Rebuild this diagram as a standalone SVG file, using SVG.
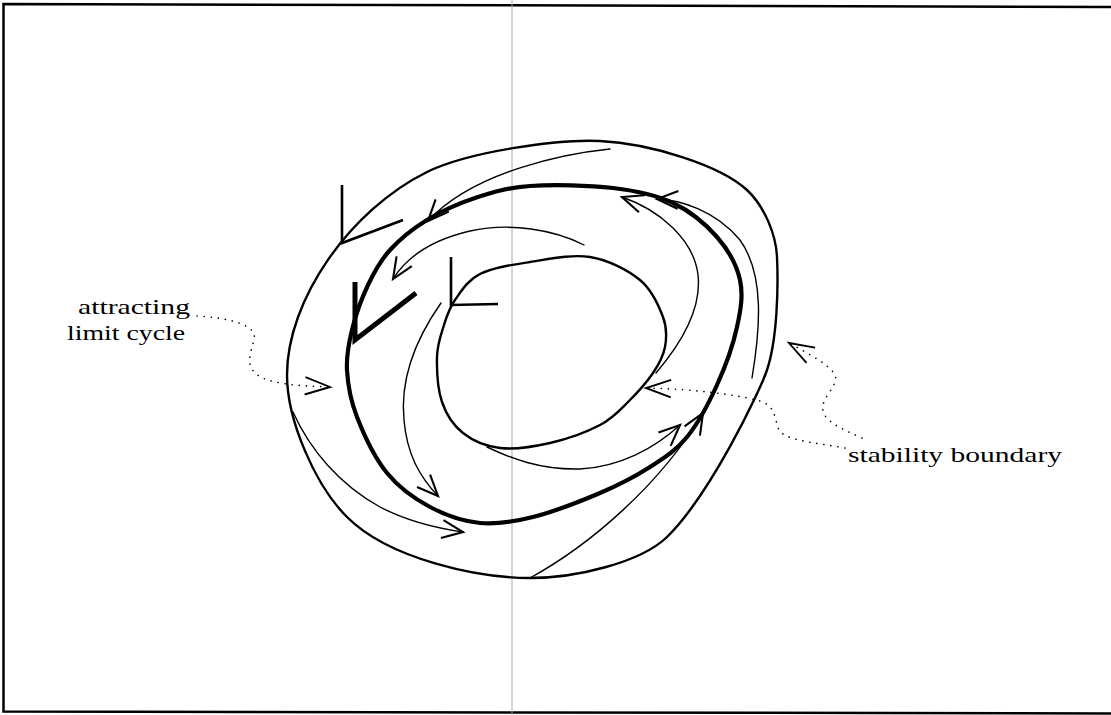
<svg xmlns="http://www.w3.org/2000/svg" width="1111" height="715" viewBox="0 0 1111 715">
<style>
.thin{fill:none;stroke:#000;stroke-width:1.4;stroke-linecap:round}
.curve{fill:none;stroke:#000;stroke-width:2.4}
.thick{fill:none;stroke:#000;stroke-width:4.2}
.dot{fill:none;stroke:#000;stroke-width:1.6;stroke-dasharray:0.1 7;stroke-linecap:round}
.lbl{font-family:"Liberation Serif","Times New Roman",serif;font-size:22px;fill:#000}
</style>
<defs>
<marker id="ah" markerUnits="userSpaceOnUse" markerWidth="30" markerHeight="30" refX="0" refY="0" viewBox="-16 -10 20 20" orient="auto" overflow="visible">
<path d="M-14,-6 L0,0 L-14,6" fill="none" stroke="#000" stroke-width="1.4"/>
</marker>
<marker id="dah" markerUnits="userSpaceOnUse" markerWidth="30" markerHeight="30" refX="0" refY="0" viewBox="-22 -10 24 20" orient="auto" overflow="visible">
<path d="M-20,-7 L0,0 L-20,7" fill="none" stroke="#000" stroke-width="1.5"/>
</marker>
</defs>
<rect width="1111" height="715" fill="#fff"/>
<g id="frame">
<polyline points="1111,7 3.5,4 3.5,711.5 1111,713.5" fill="none" stroke="#000" stroke-width="2.5"/>
<line x1="512" y1="0" x2="512" y2="715" stroke="#aaa" stroke-width="1"/>
</g>
<g id="outer-boundary">
<path class="curve" d="M287,375 C287,300 350,210 427,172 C470,151 560,139 600,141 C650,143.5 720,165 747,190 C765,207 776,235 777,257 C778.5,290 777,340 767,370 C760,391 710,495 667,537 C640,563 575,578 530,578 C480,578 390,560 347,517 C315,485 287,420 287,375 Z"/>
<polyline points="342,185 342,243 403,220" fill="none" stroke="#000" stroke-width="2.6"/>
</g>
<g id="limit-cycle">
<path class="thick" d="M347,370 C346.2,355.5 348.5,344.2 352,330 C355.5,315.8 361.7,298.3 368,285 C374.3,271.7 380.2,260.8 390,250 C399.8,239.2 412.8,228.7 427,220 C441.2,211.3 457.8,203.7 475,198 C492.2,192.3 507,187.7 530,186 C553,184.3 589.2,185.2 613,188 C636.8,190.8 655.7,194.8 673,203 C690.3,211.2 705.8,224.2 717,237 C728.2,249.8 736.7,265 740,280 C743.3,295 740.8,309.5 737,327 C733.2,344.5 725.3,366.7 717,385 C708.7,403.3 698.2,423.3 687,437 C675.8,450.7 664.5,457.7 650,467 C635.5,476.3 619.5,484.7 600,493 C580.5,501.3 553,512 533,517 C513,522 497.2,524.7 480,523 C462.8,521.3 445.5,515.3 430,507 C414.5,498.7 399.2,488 387,473 C374.8,458 363.7,434.2 357,417 C350.3,399.8 347.8,384.5 347,370 Z"/>
<polyline points="355,282 355,340 416,293" fill="none" stroke="#000" stroke-width="5" stroke-linejoin="miter"/>
</g>
<g id="inner-boundary">
<path class="curve" d="M437,357 C437.3,344.2 441,334.5 444,325 C447,315.5 449,308.5 455,300 C461,291.5 467.5,280.3 480,274 C492.5,267.7 511.7,264.8 530,262 C548.3,259.2 571.7,254 590,257 C608.3,260 627.8,270 640,280 C652.2,290 658.8,305.8 663,317 C667.2,328.2 666.7,337.7 665,347 C663.3,356.3 659.2,363.8 653,373 C646.8,382.2 636.8,393.3 628,402 C619.2,410.7 613,418.2 600,425 C587,431.8 566.7,439.2 550,443 C533.3,446.8 514.5,449.7 500,448 C485.5,446.3 472.7,440.7 463,433 C453.3,425.3 446.3,414.7 442,402 C437.7,389.3 436.7,369.8 437,357 Z"/>
<polyline points="451,257 451,305 498,304" fill="none" stroke="#000" stroke-width="2.6"/>
</g>
<g id="connectors">
<path class="thin" marker-end="url(#ah)" d="M610,149 C570,153 475,170 428,221"/>
<path class="thin" marker-end="url(#ah)" d="M584,245 C555,230 510,222 470,231 C440,238 410,252 393,279"/>
<path class="thin" marker-end="url(#ah)" d="M441,303 C415,340 400,380 404,420 C407,455 420,477 438,496"/>
<path class="thin" marker-end="url(#ah)" d="M293,412 C310,450 340,485 380,507 C405,520 435,528 463,532"/>
<path class="thin" marker-end="url(#ah)" d="M487,447 C510,458 540,470 580,469 C620,467 655,448 680,425"/>
<path class="thin" marker-end="url(#ah)" d="M530,578 C590,545 660,485 703,413"/>
<path class="thin" marker-end="url(#ah)" d="M656,373 C680,345 702,310 698,275 C694,240 660,210 622,197"/>
<path class="thin" marker-end="url(#ah)" d="M752,378 C760,330 765,275 740,240 C715,210 680,200 657,199"/>
<path class="dot" marker-end="url(#dah)" d="M197,316 C230,318 258,325 254,340 C250,355 243,370 265,379 C285,386 310,386 330,387"/>
<path class="dot" marker-end="url(#dah)" d="M845,448 C810,442 785,440 779,430 C774,418 776,406 760,401 C735,394 690,389 646,388"/>
<path class="dot" marker-end="url(#dah)" d="M862,438 C840,428 820,420 823,405 C826,392 842,382 833,372 C825,362 805,352 789,343"/>
</g>
<g id="label-attracting">
<text class="lbl" x="78" y="314" textLength="112" lengthAdjust="spacingAndGlyphs">attracting</text>
<text class="lbl" x="67" y="340" textLength="118" lengthAdjust="spacingAndGlyphs">limit cycle</text>
</g>
<g id="label-stability">
<text class="lbl" x="848" y="462" textLength="214" lengthAdjust="spacingAndGlyphs">stability boundary</text>
</g>
</svg>
